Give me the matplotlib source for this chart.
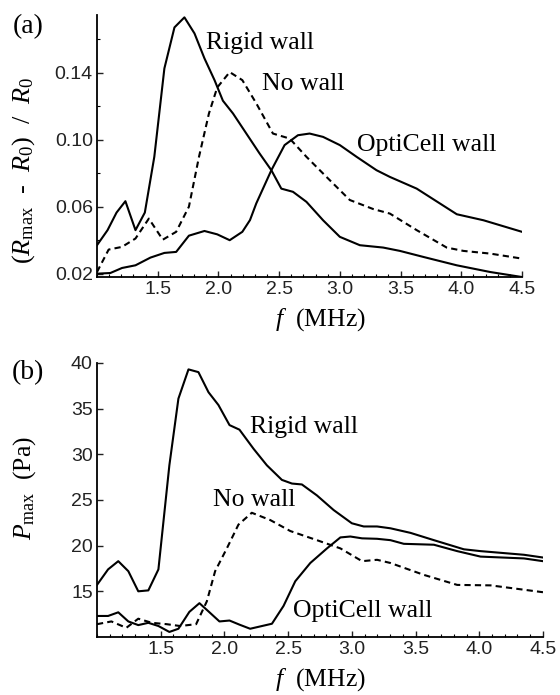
import matplotlib
matplotlib.use('Agg')
import matplotlib.pyplot as plt
from matplotlib.ticker import MultipleLocator

plt.rcParams['font.family'] = 'Liberation Sans'
plt.rcParams['mathtext.fontset'] = 'custom'
plt.rcParams['mathtext.rm'] = 'Liberation Serif'
plt.rcParams['mathtext.it'] = 'Liberation Serif:italic'

# panel (a): (Rmax - R0) / R0 vs f
a_rigid_f = [1.0, 1.087, 1.161, 1.234, 1.317, 1.394, 1.472, 1.555, 1.638, 1.72, 1.803, 1.885,
             1.968, 2.037, 2.12, 2.339, 2.436, 2.518, 2.614, 2.725, 2.862, 3.0, 3.165, 3.357,
             3.495, 3.688, 3.963, 4.238, 4.5]
a_rigid = [0.037, 0.046, 0.0565, 0.0633, 0.046, 0.0565, 0.0898, 0.1426, 0.1671, 0.1731, 0.1635,
           0.1486, 0.1356, 0.1233, 0.1157, 0.0918, 0.0818, 0.0708, 0.0689, 0.0629, 0.0519, 0.042,
           0.037, 0.0356, 0.0336, 0.030, 0.025, 0.021, 0.018]

a_nowall_f = [1.0, 1.096, 1.206, 1.317, 1.427, 1.542, 1.652, 1.757, 1.84, 1.922, 1.99, 2.093,
              2.197, 2.312, 2.449, 2.587, 2.725, 2.89, 3.082, 3.275, 3.412, 3.633, 3.88, 4.018,
              4.238, 4.5]
a_nowall = [0.021, 0.0344, 0.036, 0.041, 0.0529, 0.0403, 0.045, 0.06, 0.0898, 0.1157, 0.1312,
            0.1404, 0.1356, 0.1217, 0.1037, 0.1007, 0.0898, 0.0778, 0.064, 0.0586, 0.0559, 0.046,
            0.0356, 0.0336, 0.032, 0.029]

a_opti_f = [1.0, 1.11, 1.206, 1.317, 1.44, 1.555, 1.652, 1.757, 1.885, 1.99, 2.093, 2.197, 2.26,
            2.312, 2.436, 2.545, 2.655, 2.751, 2.862, 3.0, 3.138, 3.302, 3.412, 3.633, 3.963,
            4.183, 4.5]
a_opti = [0.02, 0.0204, 0.0234, 0.025, 0.0296, 0.0324, 0.033, 0.0427, 0.0455, 0.0435, 0.04,
          0.045, 0.052, 0.062, 0.0818, 0.0968, 0.1027, 0.1037, 0.1017, 0.0968, 0.0898, 0.0818,
          0.0778, 0.0708, 0.0555, 0.0519, 0.045]

# panel (b): Pmax vs f
b_rigid_f = [1.0, 1.087, 1.167, 1.246, 1.324, 1.403, 1.482, 1.568, 1.639, 1.718, 1.796, 1.875,
             1.953, 2.04, 2.118, 2.229, 2.333, 2.451, 2.53, 2.608, 2.726, 2.857, 3.0, 3.093,
             3.198, 3.303, 3.46, 3.644, 3.879, 4.01, 4.351, 4.5]
b_rigid = [15.7, 17.4, 18.3, 17.2, 15.0, 15.1, 17.4, 28.8, 36.1, 39.3, 39.0, 36.8, 35.4, 33.2,
           32.7, 30.6, 28.8, 27.2, 26.8, 26.7, 25.5, 23.9, 22.45, 22.1, 22.1, 21.9, 21.4, 20.6,
           19.6, 19.4, 19.0, 18.7]

b_nowall_f = [1.0, 1.113, 1.23, 1.324, 1.43, 1.547, 1.652, 1.778, 1.862, 1.927, 2.019, 2.11,
              2.215, 2.36, 2.517, 2.726, 2.91, 3.08, 3.198, 3.303, 3.565, 3.827, 4.089, 4.5]
b_nowall = [11.4, 11.7, 11.0, 12.0, 11.55, 11.4, 11.2, 11.4, 13.9, 17.2, 19.7, 22.3, 23.6, 22.8,
            21.6, 20.6, 19.7, 18.3, 18.45, 18.1, 16.8, 15.7, 15.65, 14.9]

b_opti_f = [1.0, 1.087, 1.167, 1.246, 1.324, 1.403, 1.482, 1.568, 1.639, 1.725, 1.804, 1.875,
            1.961, 2.04, 2.118, 2.202, 2.373, 2.464, 2.556, 2.674, 2.805, 2.91, 2.988, 3.08,
            3.198, 3.303, 3.408, 3.644, 3.827, 4.01, 4.351, 4.5]
b_opti = [12.3, 12.3, 12.7, 11.7, 11.3, 11.55, 11.2, 10.55, 10.9, 12.75, 13.7, 12.8, 11.7, 11.8,
          11.35, 10.9, 11.45, 13.4, 16.1, 18.1, 19.7, 20.9, 21.0, 20.8, 20.75, 20.6, 20.2, 20.1,
          19.4, 18.8, 18.6, 18.3]

serif = 'Liberation Serif'
lw = 1.5
dash = (0, (3.0, 2.0))

fig = plt.figure(figsize=(5.6, 6.95), dpi=100)
ax1 = fig.add_axes([0.1732, 0.6014, 0.7589, 0.3770])
ax2 = fig.add_axes([0.1732, 0.0835, 0.7964, 0.3942])

ax1.plot(a_rigid_f, a_rigid, color='black', lw=lw)
ax1.plot(a_nowall_f, a_nowall, color='black', lw=lw, linestyle=dash)
ax1.plot(a_opti_f, a_opti, color='black', lw=lw)
ax1.set_xlim(1.0, 4.5)
ax1.set_ylim(0.018, 0.1745)
ax1.yaxis.set_minor_locator(MultipleLocator(0.02))
ax1.set_yticks([0.02, 0.06, 0.10, 0.14])
ax1.set_yticklabels(['0.02', '0.06', '0.10', '0.14'])

ax2.plot(b_rigid_f, b_rigid, color='black', lw=lw)
ax2.plot(b_nowall_f, b_nowall, color='black', lw=lw, linestyle=dash)
ax2.plot(b_opti_f, b_opti, color='black', lw=lw)
ax2.set_xlim(1.0, 4.5)
ax2.set_ylim(10, 40)
ax2.set_yticks([15, 20, 25, 30, 35, 40])

for ax in (ax1, ax2):
    ax.set_xticks([1.5, 2.0, 2.5, 3.0, 3.5, 4.0, 4.5])
    ax.set_xticklabels(['1.5', '2.0', '2.5', '3.0', '3.5', '4.0', '4.5'])
    ax.xaxis.set_minor_locator(MultipleLocator(0.1))
    ax.spines['top'].set_visible(False)
    ax.spines['right'].set_visible(False)
    ax.spines['left'].set_linewidth(1.3)
    ax.spines['bottom'].set_linewidth(1.3)
    ax.tick_params(which='major', direction='in', length=4, width=1, labelsize=14,
                   colors='#222222', pad=3)
    ax.tick_params(which='minor', direction='in', length=2.5, width=0.8)

fs = 18.5
ax1.text(1.9, 0.1578, 'Rigid wall', family=serif, fontsize=fs, ha='left', va='center')
ax1.text(2.362, 0.1332, 'No wall', family=serif, fontsize=fs, ha='left', va='center')
ax1.text(3.143, 0.0967, 'OptiCell wall', family=serif, fontsize=fs, ha='left', va='center')

ax2.text(2.201, 32.98, 'Rigid wall', family=serif, fontsize=fs, ha='left', va='center')
ax2.text(1.913, 24.99, 'No wall', family=serif, fontsize=fs, ha='left', va='center')
ax2.text(2.542, 12.82, 'OptiCell wall', family=serif, fontsize=fs, ha='left', va='center')

fig.text(13 / 560, 1 - 27 / 695, '(a)', family=serif, fontsize=20, ha='left', va='center')
fig.text(12 / 560, 1 - 373 / 695, '(b)', family=serif, fontsize=20, ha='left', va='center')

fig.text(24 / 560, 1 - 170 / 695, r'($R_{\mathrm{max}}$  -  $R_0$)  /  $R_0$', family=serif,
         fontsize=19, rotation=90, ha='center', va='center')
fig.text(25 / 560, 1 - 488 / 695, r'$P_{\mathrm{max}}$  (Pa)', family=serif,
         fontsize=18.5, rotation=90, ha='center', va='center')

fig.text(320 / 560, 1 - 320 / 695, r'$f$  (MHz)', family=serif, fontsize=18.5,
         ha='center', va='center')
fig.text(320 / 560, 1 - 680 / 695, r'$f$  (MHz)', family=serif, fontsize=18.5,
         ha='center', va='center')

fig.savefig('out.png', dpi=100)
